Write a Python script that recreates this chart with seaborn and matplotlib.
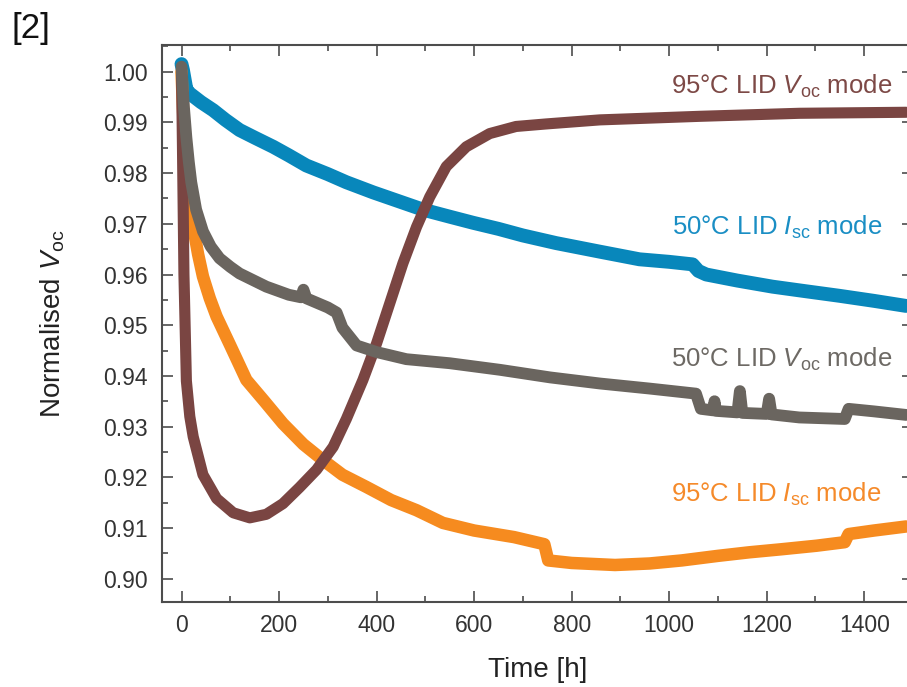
import matplotlib
matplotlib.use("Agg")
import matplotlib.pyplot as plt
import seaborn as sns
import pandas as pd
from matplotlib.ticker import MultipleLocator, FormatStrFormatter

# ---------------- data ----------------
blue_t = [0, 3, 10, 17, 40, 65, 90, 119, 150, 188, 220, 256, 300, 338, 393, 450, 495, 550,
          598, 650, 700, 768, 858, 939, 1000, 1048, 1060, 1076, 1140, 1212, 1280, 1349, 1420, 1486]
blue_v = [1.0015, 1.0003, 0.9965, 0.9957, 0.9940, 0.9924, 0.9905, 0.9885, 0.9870, 0.9852, 0.9835,
          0.9815, 0.9798, 0.9782, 0.9762, 0.9743, 0.9728, 0.9714, 0.9702, 0.9690, 0.9677, 0.9662,
          0.9645, 0.9630, 0.9625, 0.9620, 0.9607, 0.9600, 0.9588, 0.9576, 0.9567, 0.9558, 0.9548, 0.9538]

gray_t = [0, 5, 10, 15, 20, 30, 44, 60, 78, 100, 119, 174, 220, 245, 250, 256, 300, 318, 330, 359,
          400, 461, 550, 653, 756, 858, 960, 1055, 1065, 1090, 1093, 1096, 1140, 1145, 1150, 1200,
          1205, 1210, 1267, 1360, 1368, 1420, 1486]
gray_v = [1.0010, 0.9930, 0.9870, 0.9822, 0.9782, 0.9728, 0.9685, 0.9655, 0.9632, 0.9615, 0.9602,
          0.9576, 0.9560, 0.9555, 0.9570, 0.9553, 0.9535, 0.9525, 0.9495, 0.9460, 0.9447, 0.9433,
          0.9425, 0.9412, 0.9397, 0.9385, 0.9375, 0.9365, 0.9335, 0.9332, 0.9350, 0.9331, 0.9328,
          0.9370, 0.9327, 0.9325, 0.9355, 0.9324, 0.9318, 0.9315, 0.9335, 0.9330, 0.9323]

orange_t = [0, 5, 10, 17, 24, 34, 44, 58, 72, 100, 133, 170, 208, 250, 290, 330, 379, 430, 482, 536,
            600, 682, 744, 752, 800, 889, 960, 1026, 1100, 1164, 1230, 1302, 1360, 1368, 1420, 1486]
orange_v = [1.0000, 0.9880, 0.9800, 0.9740, 0.9694, 0.9640, 0.9596, 0.9553, 0.9517, 0.9460, 0.9392,
            0.9350, 0.9306, 0.9265, 0.9234, 0.9205, 0.9181, 0.9155, 0.9135, 0.9110, 0.9095, 0.9082,
            0.9068, 0.9036, 0.9031, 0.9027, 0.9030, 0.9036, 0.9045, 0.9052, 0.9058, 0.9065, 0.9072,
            0.9088, 0.9095, 0.9103]

brown_t = [0, 2, 5, 10, 17, 24, 44, 72, 106, 140, 174, 208, 242, 277, 311, 338, 372, 400, 427, 454,
           482, 509, 543, 584, 632, 686, 748, 858, 1062, 1267, 1486]
brown_v = [1.0000, 0.9850, 0.9600, 0.9390, 0.9320, 0.9280, 0.9205, 0.9158, 0.9130, 0.9120, 0.9127,
           0.9148, 0.9180, 0.9215, 0.9260, 0.9315, 0.9392, 0.9464, 0.9543, 0.9622, 0.9694, 0.9753,
           0.9813, 0.9852, 0.9878, 0.9892, 0.9897, 0.9905, 0.9912, 0.9918, 0.9920]

x_ticks = [0, 200, 400, 600, 800, 1000, 1200, 1400]
y_ticks = [0.90, 0.91, 0.92, 0.93, 0.94, 0.95, 0.96, 0.97, 0.98, 0.99, 1.00]

labels = {
    "brown": r"95°C LID $V_{\mathregular{oc}}$ mode",
    "blue": r"50°C LID $I_{\mathregular{sc}}$ mode",
    "gray": r"50°C LID $V_{\mathregular{oc}}$ mode",
    "orange": r"95°C LID $I_{\mathregular{sc}}$ mode",
}

# ---------------- style ----------------
sns.set_theme(style="ticks")
plt.rcParams['font.family'] = ['Liberation Sans', 'DejaVu Sans']
plt.rcParams['mathtext.fontset'] = 'custom'
plt.rcParams['mathtext.rm'] = 'Liberation Sans'
plt.rcParams['mathtext.it'] = 'Liberation Sans:italic'
plt.rcParams['mathtext.bf'] = 'Liberation Sans:bold'

C_BLUE = "#0887bb"
C_BROWN = "#7a4542"
C_GRAY = "#6a655f"
C_ORANGE = "#f68b1f"

fig = plt.figure(figsize=(9.07, 6.87), dpi=100)
ax = fig.add_axes([162/907, 85/687, 751/907, 557/687])

series = [
    (blue_t, blue_v, C_BLUE, 10),
    (orange_t, orange_v, C_ORANGE, 9),
    (brown_t, brown_v, C_BROWN, 8),
    (gray_t, gray_v, C_GRAY, 8.5),
]
for t, v, c, lw in series:
    df = pd.DataFrame({"t": t, "v": v})
    sns.lineplot(data=df, x="t", y="v", ax=ax, color=c, linewidth=lw,
                 estimator=None, sort=False, solid_capstyle="round",
                 solid_joinstyle="round")

ax.set_xlim(-40, 1500)
ax.set_ylim(0.8954, 1.00527)
ax.set_xticks(x_ticks)
ax.set_yticks(y_ticks)
ax.xaxis.set_minor_locator(MultipleLocator(100))
ax.yaxis.set_minor_locator(MultipleLocator(0.005))
ax.yaxis.set_major_formatter(FormatStrFormatter("%.2f"))

spine_c = "#4d4d4d"
for s in ax.spines.values():
    s.set_visible(True)
    s.set_color(spine_c)
    s.set_linewidth(1.5)

ax.tick_params(which="both", direction="in", top=True, right=True,
               color=spine_c, width=1.2, labelcolor="#333333")
ax.tick_params(which="major", length=8, labelsize=16.5)
ax.tick_params(axis="y", which="major", pad=10)
ax.tick_params(axis="x", which="major", pad=9)
ax.tick_params(which="minor", length=4)

ax.set_xlabel("Time [h]", fontsize=20, color="#222222", labelpad=14)
ax.set_ylabel(r"Normalised $V_{\mathregular{oc}}$", fontsize=20, color="#222222", labelpad=26)

tk = dict(fontsize=18.5, ha="right", va="baseline")
ax.text(1458, 0.99574, labels["brown"], color="#7d4946", **tk)
ax.text(1436, 0.96776, labels["blue"], color="#1a8ec4", **tk)
ax.text(1458, 0.94172, labels["gray"], color="#6d6964", **tk)
ax.text(1435, 0.91512, labels["orange"], color="#f58a2a", **tk)

fig.text(12/907, 1 - 38/687, "[2]", fontsize=25, color="#111111", ha="left", va="baseline")

fig.savefig("out.png", dpi=100, facecolor="white")
